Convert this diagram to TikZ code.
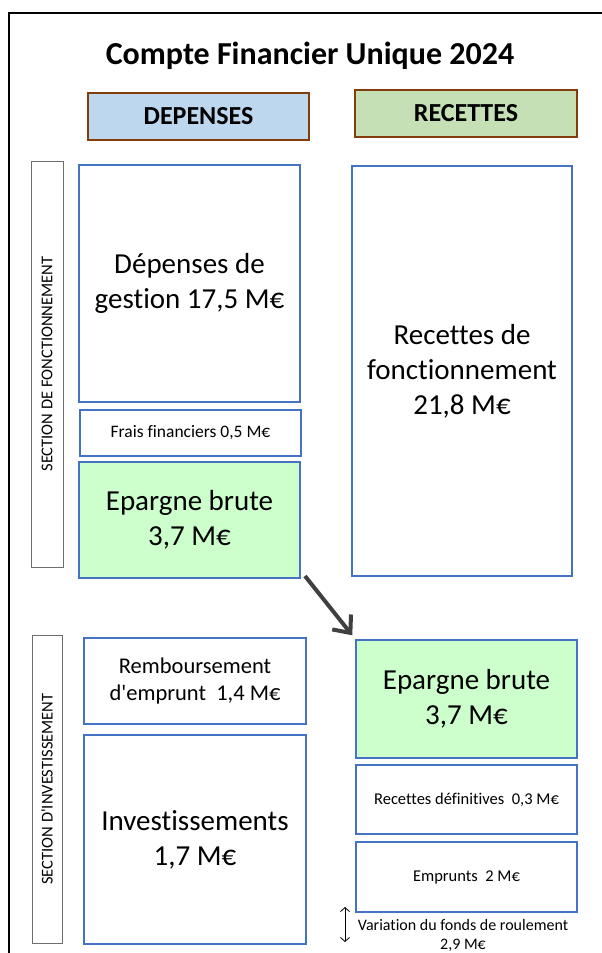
\documentclass[tikz,border=0pt]{standalone}
\usepackage{fontspec}
\setmainfont{Carlito}[Ligatures={TeXOff,CommonOff}]
\usetikzlibrary{arrows.meta,calc}
\definecolor{bx}{RGB}{68,114,196}
\definecolor{brn}{RGB}{132,60,12}
\definecolor{depfill}{RGB}{189,215,238}
\definecolor{recfill}{RGB}{197,224,180}
\definecolor{grn}{RGB}{204,255,204}
\definecolor{lbl}{RGB}{110,110,110}
\definecolor{arr}{RGB}{64,64,64}
\begin{document}
\begin{tikzpicture}[x=1pt,y=-1pt,
  box/.style={draw=bx,line width=2.5pt,inner sep=0pt,outer sep=0pt,align=center,text=black},
  hdr/.style={draw=brn,line width=2.5pt,inner sep=0pt,outer sep=0pt,font=\bfseries\fontsize{26}{30}\selectfont},
  lab/.style={draw=lbl,line width=1pt,inner sep=0pt,outer sep=0pt,rotate=90,font=\fontsize{16.5}{20}\selectfont},
  big/.style={font=\fontsize{29}{35}\selectfont},
  mid/.style={font=\fontsize{22.5}{27}\selectfont},
  small/.style={font=\fontsize{16.5}{20}\selectfont}]
\useasboundingbox (0,0) rectangle (602,953);
% frame
\coordinate (fbl) at (9,953);
\coordinate (ftl) at (9,13);
\coordinate (ftr) at (602,13);
\draw[line width=2.5pt] (fbl) -- (ftl) -- (ftr);
% title
\node[font=\bfseries\fontsize{32}{36}\selectfont,anchor=base] (title) at (310,64) {Compte Financier Unique 2024};
% headers
\node[hdr,fill=depfill,minimum width=221pt,minimum height=47pt] (hdep) at (198.5,116.5) {DEPENSES};
\node[hdr,fill=recfill,minimum width=222pt,minimum height=47pt] (hrec) at (466,113.5) {RECETTES};
% section labels
\node[lab,minimum width=406pt,minimum height=32pt] (lab1) at (47,364) {SECTION DE FONCTIONNEMENT};
\node[lab,minimum width=308pt,minimum height=30pt] (lab2) at (47,789) {SECTION D'INVESTISSEMENT};
% left column
\node[box,big,minimum width=221pt,minimum height=237pt] (gest) at (189.5,283.5) {Dépenses de\\gestion 17,5 M€};
\node[box,font=\fontsize{17.5}{21}\selectfont,minimum width=221pt,minimum height=46pt] (frais) at (190.5,433) {Frais financiers 0,5 M€};
\node[box,big,fill=grn,minimum width=221pt,minimum height=116pt] (epl) at (189.5,520) {Epargne brute\\3,7 M€};
\node[box,mid,minimum width=222pt,minimum height=86pt] (remb) at (195,681) {Remboursement\\d'emprunt\ \ 1,4 M€};
\node[box,big,minimum width=222pt,minimum height=209pt] (inv) at (195,839.5) {Investissements\\1,7 M€};
% right column
\node[box,big,minimum width=220pt,minimum height=410pt] (recf) at (462,371) {Recettes de\\fonctionnement\\21,8 M€};
\node[box,big,fill=grn,minimum width=221pt,minimum height=118pt] (epr) at (466.5,699) {Epargne brute\\3,7 M€};
\node[box,small,minimum width=221pt,minimum height=69pt] (recd) at (466.5,799.5) {Recettes définitives\ \ 0,3 M€};
\node[box,small,minimum width=221pt,minimum height=70pt] (emp) at (466.5,877) {Emprunts\ \ 2 M€};
% arrow between epargnes
\draw[arr,line width=4pt,shorten >=6pt,-{Straight Barb[length=14pt,width=24pt]}]
  ($(epl.south east)+(5,-2)$) -- (epr.north west);
% variation du fonds de roulement
\coordinate (vtop) at (345,907);
\coordinate (vbot) at (345,942);
\draw[line width=0.8pt,{Straight Barb[length=4pt,width=9pt]}-{Straight Barb[length=4pt,width=9pt]}] (vtop) -- (vbot);
\node[align=center,inner sep=0pt,font=\fontsize{16}{19}\selectfont] (var) at (463,935.5) {Variation du fonds de roulement\\2,9 M€};
\end{tikzpicture}
\end{document}
